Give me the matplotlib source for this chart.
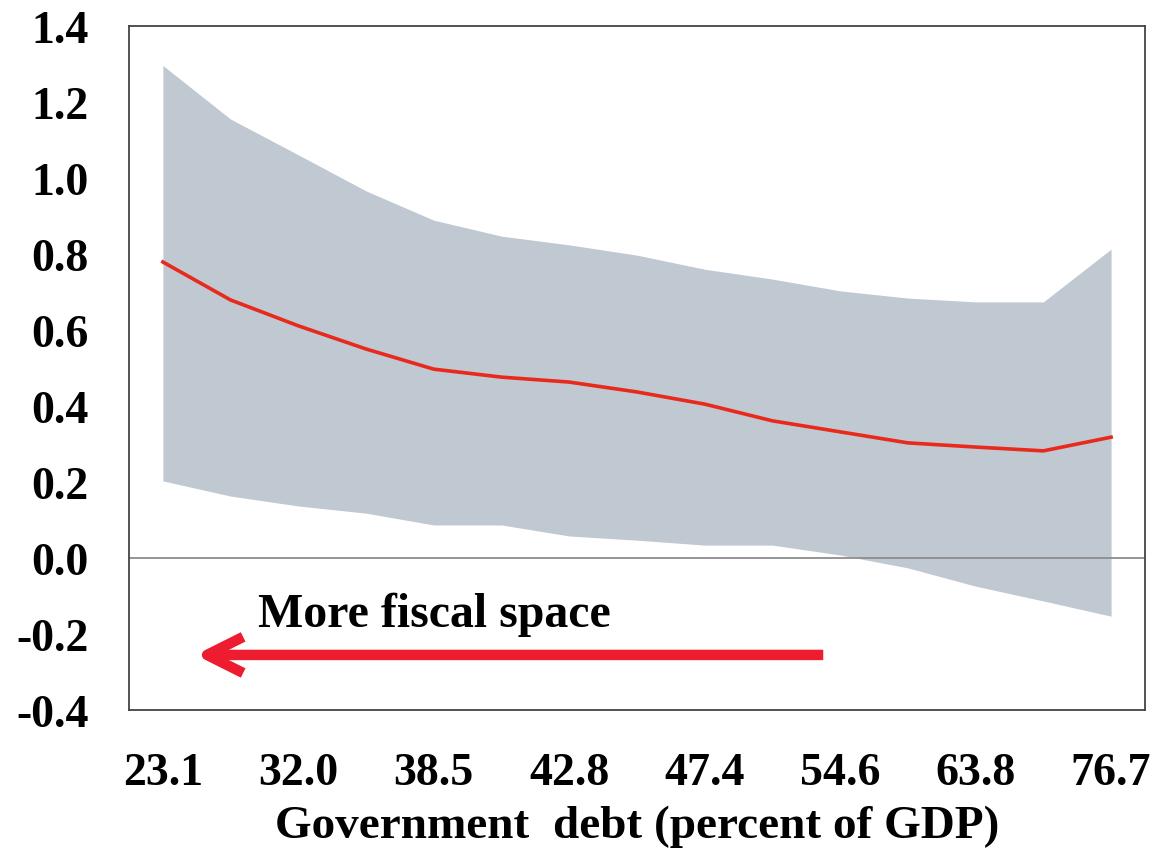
import numpy as np
import matplotlib
matplotlib.use("Agg")
import matplotlib.pyplot as plt

# debt buckets (percent of GDP), only every other one is labelled
tick_labels = ["23.1", "32.0", "38.5", "42.8", "47.4", "54.6", "63.8", "76.7"]
n_points = 15

estimate = [0.779, 0.679, 0.611, 0.550, 0.497, 0.476, 0.463, 0.437,
            0.405, 0.361, 0.332, 0.303, 0.292, 0.282, 0.318]
upper = [1.296, 1.155, 1.061, 0.966, 0.889, 0.847, 0.824, 0.797,
         0.760, 0.734, 0.703, 0.684, 0.674, 0.674, 0.813]
lower = [0.203, 0.163, 0.137, 0.118, 0.087, 0.087, 0.058, 0.047,
         0.034, 0.034, 0.008, -0.026, -0.074, -0.113, -0.153]

plt.rcParams['font.family'] = ['Liberation Serif', 'DejaVu Serif']
plt.rcParams['font.weight'] = 'bold'

x = np.arange(n_points)

fig = plt.figure(figsize=(11.55, 8.54), dpi=100)
ax = fig.add_axes([0.1117, 0.1674, 0.8796, 0.801])

ax.fill_between(x, lower, upper, color='#c0c8d1', linewidth=0, zorder=1)
ax.axhline(0, color='#8c8c8c', linewidth=1.3, zorder=2)
ax.plot(x, estimate, color='#e8291c', linewidth=2.6, zorder=3)

yt = np.arange(-0.4, 1.41, 0.2)
ax.set_xlim(-0.5, 14.5)
ax.set_ylim(-0.4, 1.4)
ax.set_yticks(yt)
ax.set_yticklabels(['{:.1f}'.format(v) for v in yt])
ax.set_xticks(x[::2])
ax.set_xticklabels(tick_labels)
ax.tick_params(axis='both', length=0, labelsize=33)
ax.tick_params(axis='x', pad=30)
ax.tick_params(axis='y', pad=29)

for s in ax.spines.values():
    s.set_color('#444444')
    s.set_linewidth(1.3)

ax.set_xlabel('Government  debt (percent of GDP)', fontsize=34, fontweight='bold', labelpad=8)

# direction note
ax.text(1.4, -0.18, 'More fiscal space', fontsize=34.5, fontweight='bold', va='baseline')
ax.annotate('', xy=(0.48, -0.255), xytext=(9.75, -0.255),
            arrowprops=dict(arrowstyle='->,head_length=1.3,head_width=0.65',
                            mutation_scale=20, color='#ed1c2e', lw=7.5,
                            capstyle='butt', joinstyle='round',
                            shrinkA=0, shrinkB=0))

fig.savefig('out.png', dpi=100)
